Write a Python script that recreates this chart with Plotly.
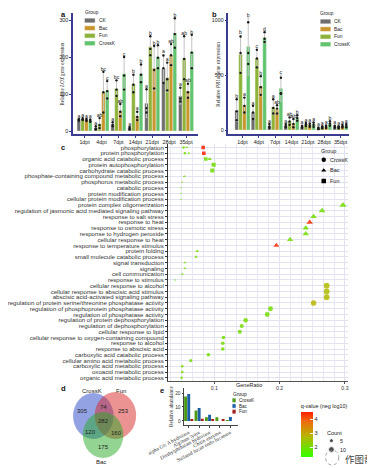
import numpy as np
import plotly.graph_objects as go

FONT = "Liberation Sans, Arial, sans-serif"
SERIF = "Liberation Serif, Times New Roman, serif"

# ---------------- data ----------------
dpt = ['1dpt', '4dpt', '7dpt', '14dpt', '21dpt', '28dpt', '35dpt']
bar_groups = ['CK', 'Fun', 'Bac', 'CrossK']          # order of bars inside a time point
legend_groups = ['CK', 'Bac', 'Fun', 'CrossK']       # order in legend

# panel a : relative LOX expression (mean, error, letters, replicates)
lox = {
    'CK':     [30, 8, 18, 8, 75, 168, 95],
    'Fun':    [32, 20, 115, 128, 228, 145, 197],
    'Bac':    [30, 105, 55, 40, 170, 205, 108],
    'CrossK': [28, 110, 155, 155, 200, 265, 215],
}
lox_err = {
    'CK':     [3, 5, 6, 3, 38, 38, 22],
    'Fun':    [3, 15, 22, 24, 28, 40, 60],
    'Bac':    [3, 55, 18, 12, 60, 30, 20],
    'CrossK': [3, 25, 45, 25, 32, 40, 45],
}
lox_let = {
    'CK':     ['a', 'a', 'a', 'a', 'a', 'a', 'a'],
    'Fun':    ['a', 'ab', 'bc', 'b', 'b', 'a', 'ab'],
    'Bac':    ['a', 'bc', 'ab', 'a', 'b', 'ab', 'ab'],
    'CrossK': ['a', 'c', 'c', 'b', 'b', 'b', 'b'],
}
lox_reps = {
    'CK':     [[28, 31, 32], [4, 7, 13], [13, 17, 24], [5, 8, 11], [50, 62, 113], [130, 170, 204], [80, 88, 117]],
    'Fun':    [[30, 32, 35], [8, 16, 35], [95, 112, 137], [105, 125, 152], [205, 222, 256], [110, 140, 185], [140, 195, 256]],
    'Bac':    [[27, 30, 33], [50, 105, 160], [40, 52, 73], [30, 38, 52], [115, 165, 230], [178, 205, 235], [90, 105, 128]],
    'CrossK': [[25, 28, 31], [88, 108, 135], [112, 150, 200], [132, 152, 180], [170, 198, 232], [225, 262, 305], [170, 212, 260]],
}

# panel b : relative PR1a expression
pr = {
    'CK':     [180, 160, 35, 40, 30, 15, 30],
    'Fun':    [690, 650, 210, 80, 50, 25, 25],
    'Bac':    [225, 400, 190, 60, 45, 30, 35],
    'CrossK': [760, 840, 380, 110, 50, 60, 40],
}
pr_err = {
    'CK':     [100, 60, 20, 15, 10, 8, 10],
    'Fun':    [170, 80, 70, 35, 15, 10, 10],
    'Bac':    [70, 90, 35, 40, 15, 12, 12],
    'CrossK': [260, 50, 120, 25, 20, 20, 15],
}
pr_let = {
    'CK':     ['b', 'a', 'a', 'a', 'a', 'a', 'a'],
    'Fun':    ['b', 'c', 'a', 'ab', 'a', 'a', 'a'],
    'Bac':    ['a', 'b', 'ab', 'ab', 'a', 'a', 'a'],
    'CrossK': ['b', 'd', 'c', 'b', 'a', 'b', 'a'],
}
pr_reps = {
    'CK':     [[90, 170, 280], [100, 160, 220], [18, 32, 55], [26, 38, 55], [20, 30, 40], [8, 14, 23], [20, 30, 40]],
    'Fun':    [[520, 700, 850], [570, 650, 730], [150, 200, 280], [48, 78, 115], [36, 50, 65], [15, 25, 35], [15, 25, 35]],
    'Bac':    [[160, 220, 295], [320, 390, 490], [150, 195, 225], [25, 55, 100], [30, 45, 60], [18, 30, 42], [23, 35, 47]],
    'CrossK': [[600, 700, 980], [800, 830, 890], [330, 335, 475], [85, 110, 135], [30, 50, 70], [40, 60, 80], [25, 40, 55]],
}
bar_colors = {'CK': '#6e6e6e', 'Fun': '#8db33a', 'Bac': '#c9962e', 'CrossK': '#62c46e'}

# panel c : GO enrichment
terms = [
    'phosphorylation', 'protein phosphorylation', 'organic acid catabolic process',
    'protein autophosphorylation', 'carbohydrate catabolic process',
    'phosphate-containing compound metabolic process', 'phosphorus metabolic process',
    'catabolic process', 'protein modification process', 'cellular protein modification process',
    'protein complex oligomerization', 'regulation of jasmonic acid mediated signaling pathway',
    'response to salt stress', 'response to heat', 'response to osmotic stress',
    'response to hydrogen peroxide', 'cellular response to heat', 'response to temperature stimulus',
    'protein folding', 'small molecule catabolic process', 'signal transduction', 'signaling',
    'cell communication', 'response to stimulus', 'cellular response to alcohol',
    'cellular response to abscisic acid stimulus', 'abscisic acid-activated signaling pathway',
    'regulation of protein serine/threonine phosphatase activity',
    'regulation of phosphoprotein phosphatase activity', 'regulation of phosphatase activity',
    'regulation of protein dephosphorylation', 'regulation of dephosphorylation',
    'cellular response to lipid', 'cellular response to oxygen-containing compound',
    'response to alcohol', 'response to abscisic acid', 'carboxylic acid catabolic process',
    'cellular amino acid metabolic process', 'carboxylic acid metabolic process',
    'oxoacid metabolic process', 'organic acid metabolic process',
]
crossk_terms = terms[0:2] + terms[24:41]
crossk_ratio = [0.053, 0.055, 0.272, 0.272, 0.272, 0.252, 0.186, 0.181, 0.148, 0.142,
                0.139, 0.114, 0.113, 0.113, 0.091, 0.064, 0.051, 0.051, 0.050]
crossk_q = [2.0, 2.0, 2.7, 2.7, 2.7, 2.8, 2.0, 2.0, 2.0, 2.0,
            2.0, 2.0, 2.0, 2.0, 2.0, 2.0, 2.0, 2.0, 2.0]
crossk_count = [2, 2, 10, 10, 10, 9, 7, 7, 6, 5, 5, 4, 4, 4, 4, 3, 2, 2, 2]

bac_terms = terms[0:3] + terms[5:24]
bac_ratio = [0.058, 0.061, 0.093, 0.054, 0.051, 0.049, 0.049, 0.049, 0.297, 0.265, 0.252,
             0.246, 0.240, 0.240, 0.216, 0.195, 0.074, 0.072, 0.055, 0.055, 0.051, 0.040]
bac_q = [2.0, 2.0, 2.0, 2.0, 2.0, 2.0, 2.0, 2.0, 2.0, 2.0, 2.0,
         4.4, 2.0, 2.0, 2.0, 4.4, 2.0, 2.0, 2.0, 2.0, 2.0, 1.9]
bac_count = [2, 2, 4, 2, 1, 1, 1, 1, 12, 11, 10, 10, 10, 10, 9, 8, 3, 3, 2, 2, 2, 1]

fun_terms = terms[0:5]
fun_ratio = [0.083, 0.084, 0.087, 0.099, 0.097]
fun_q = [4.5, 4.5, 2.0, 2.0, 2.0]
fun_count = [4, 4, 4, 5, 5]

count_legend = [5, 10]

# panel d : Venn counts
venn_sets = ['CrossK', 'Fun', 'Bac']
venn_counts = {'CrossK': 305, 'CrossK&Fun': 74, 'Fun': 253, 'all': 282,
               'CrossK&Bac': 120, 'Fun&Bac': 160, 'Bac': 175}

# panel e : relative abundance of enzymes
e_cats = ['alpha Glc A hydrolase', 'Alginate lyase', 'Diethylphthalate hydrolase',
          'Chitin enzyme', 'Sulfated fucan endo fucanase']
e_vals = {
    'CrossK': [17.6, 7.4, 2.6, 2.6, 0.3],
    'Bac':    [19.3, 9.3, 4.5, 0.0, 2.8],
    'Fun':    [1.0, 1.5, 1.0, 1.0, 0.0],
}
e_colors = {'CrossK': '#4c9a16', 'Bac': '#1d5fa3', 'Fun': '#a3201c'}

# ---------------- figure ----------------
fig = go.Figure()

def bar_panel(vals, errs, lets, reps, xa, ya, step, width):
    idx = np.arange(len(dpt))
    for k, g in enumerate(bar_groups):
        xs = idx + (k - 1.5) * step
        fig.add_trace(go.Bar(
            x=xs, y=vals[g], width=width, name=g, xaxis=xa, yaxis=ya,
            marker=dict(color=bar_colors[g], line=dict(color='rgba(255,255,255,0.7)', width=0.5)),
            error_y=dict(type='data', array=errs[g], color='#c4c4c4', thickness=1, width=1),
            showlegend=False, hoverinfo='skip'))
        rx = np.repeat(xs, 3)
        ry = np.array(reps[g]).ravel()
        fig.add_trace(go.Scatter(
            x=rx, y=ry, mode='markers', xaxis=xa, yaxis=ya, showlegend=False, hoverinfo='skip',
            marker=dict(size=2.4, color='#1a1a1a')))
        tops = np.array(vals[g]) + np.array(errs[g])
        fig.add_trace(go.Scatter(
            x=xs, y=tops, text=lets[g], mode='text', textposition='top center',
            textfont=dict(size=5.2, color='#222', family=FONT),
            xaxis=xa, yaxis=ya, showlegend=False, hoverinfo='skip'))

bar_panel(lox, lox_err, lox_let, lox_reps, 'x', 'y', 0.225, 0.215)
bar_panel(pr, pr_err, pr_let, pr_reps, 'x2', 'y2', 0.235, 0.225)

# panel c
SIZEREF = 0.6
for g, tt, rr, qq, cc, sym in [
        ('CrossK', crossk_terms, crossk_ratio, crossk_q, crossk_count, 'circle'),
        ('Bac', bac_terms, bac_ratio, bac_q, bac_count, 'triangle-up'),
        ('Fun', fun_terms, fun_ratio, fun_q, fun_count, 'square')]:
    fig.add_trace(go.Scatter(
        x=rr, y=tt, mode='markers', xaxis='x3', yaxis='y3', showlegend=False, hoverinfo='skip',
        marker=dict(symbol=sym, size=cc, sizemode='area', sizeref=SIZEREF, sizemin=0.9,
                    color=qq, coloraxis='coloraxis', opacity=0.85, line=dict(width=0))))

# panel e
eidx = np.arange(len(e_cats))
for k, g in enumerate(['CrossK', 'Bac', 'Fun']):
    fig.add_trace(go.Bar(
        x=eidx + (k - 1) * 0.3, y=e_vals[g], width=0.28, xaxis='x4', yaxis='y4',
        marker=dict(color=e_colors[g], line=dict(width=0)), showlegend=False, hoverinfo='skip'))

# ---------------- overlay (pixel coordinates) ----------------
OV = dict(xaxis='x5', yaxis='y5', showlegend=False, hoverinfo='skip')
annotations = []
shapes = []

def txt(x, y, s, size=5.3, anchor='left', color='#222', family=FONT, angle=0, yanchor='middle'):
    annotations.append(dict(x=x, y=y, xref='x5', yref='y5', text=s, showarrow=False,
                            xanchor=anchor, yanchor=yanchor, textangle=angle, borderpad=0,
                            font=dict(size=size, color=color, family=family)))

def rect(x0, y0, x1, y1, color):
    shapes.append(dict(type='rect', xref='x5', yref='y5', x0=x0, y0=y0, x1=x1, y1=y1,
                       fillcolor=color, line=dict(color='rgba(255,255,255,0.8)', width=0.5),
                       layer='above'))

# panel letters
for s, x, y in [('a', 10, 6), ('b', 181, 6), ('c', 10, 139), ('d', 10, 380), ('e', 122, 382)]:
    txt(x, y, '<b>%s</b>' % s, size=7.5, color='#111')

# y titles
txt(12, 66, 'Relative <i>LOX</i> gene expression', size=5.2, anchor='center', angle=-90, family=SERIF)
txt(189, 66, 'Relative <i>PR1a</i> gene expression', size=5.2, anchor='center', angle=-90, family=SERIF)
txt(136, 399, 'Relative abundance', size=5.2, anchor='center', angle=-90, family=SERIF)

# legends of a and b
for (lx, ly) in [(37, 4.5), (304, 5.5)]:
    txt(lx, ly, 'Group', size=4.8)
    for k, g in enumerate(legend_groups):
        yy = ly + 8 + k * 7.6
        rect(lx + 1, yy - 2.3, lx + 13, yy + 2.3, bar_colors[g])
        txt(lx + 16, yy, g, size=4.9)

# legend of c (Group)
txt(305, 142.5, 'Group', size=5.5)
grp_syms = [('CrossK', 'circle'), ('Bac', 'triangle-up'), ('Fun', 'square')]
for k, (g, sym) in enumerate(grp_syms):
    yy = 151.8 + k * 10.6
    fig.add_trace(go.Scatter(x=[309], y=[yy], mode='markers',
                             marker=dict(symbol=sym, size=4.5, color='black'), **OV))
    txt(315, yy, g, size=5.5)

# count legend
txt(312, 425, 'Count', size=5.5)
fig.add_trace(go.Scatter(x=[317.7, 317.7], y=[432.7, 441.5], mode='markers',
                         marker=dict(size=count_legend, sizemode='area', sizeref=SIZEREF,
                                     color='black'), **OV))
for c, yy in zip(count_legend, [432.7, 441.5]):
    txt(326, yy, str(c), size=5.3)

# GeneRatio label
txt(208, 377, 'GeneRatio', size=5.5)

# legend of e
txt(205, 386, 'Group', size=5.0)
for k, g in enumerate(['CrossK', 'Bac', 'Fun']):
    yy = 392.3 + k * 5.7
    rect(205.3, yy - 2.1, 209.5, yy + 2.1, e_colors[g])
    txt(211.5, yy, g, size=4.6)

# Venn diagram
venn_geom = {'CrossK': (48, 408, 23, 'rgba(40,70,200,0.5)'),
             'Fun': (73, 407.5, 23.5, 'rgba(215,40,40,0.5)'),
             'Bac': (59, 427, 23, 'rgba(40,170,40,0.5)')}
for s in venn_sets:
    cx, cy, r, col = venn_geom[s]
    shapes.append(dict(type='circle', xref='x5', yref='y5', x0=cx - r, x1=cx + r,
                       y0=cy - r, y1=cy + r, fillcolor=col, line=dict(width=0), layer='below'))
venn_lab_pos = {'CrossK': (46.7, 382.5), 'Fun': (79, 382.5), 'Bac': (57, 454)}
for s in venn_sets:
    txt(*venn_lab_pos[s], s, size=6, anchor='center')
venn_num_pos = {'CrossK': (36, 403), 'CrossK&Fun': (60, 399), 'Fun': (82.5, 402.5),
                'all': (60, 413), 'CrossK&Bac': (44.5, 424), 'Fun&Bac': (74, 425),
                'Bac': (60, 438.5)}
for key, n in venn_counts.items():
    txt(*venn_num_pos[key], str(n), size=6, anchor='center')

# watermark
shapes.append(dict(type='circle', xref='x5', yref='y5', x0=311, x1=326, y0=442, y1=457,
                   line=dict(color='#888', width=0.8, dash='dot'), layer='above'))
txt(349, 451, '作图帮', size=9.5, anchor='center', color='#444',
    family='Noto Sans CJK SC, sans-serif')

# ---------------- layout ----------------
W, H = 375, 468
def dx(a, b):
    return [a / W, b / W]
def dy(top, bottom):
    return [1 - bottom / H, 1 - top / H]

NAVY = '#3b3b8f'
bar_x = dict(showline=True, linecolor=NAVY, linewidth=1.5, ticks='outside', ticklen=2,
             tickcolor=NAVY, tickwidth=1, tickangle=0,
             tickfont=dict(size=5.3, color='#222', family=FONT),
             showgrid=False, zeroline=False, fixedrange=True)
bar_y = dict(showline=True, linecolor=NAVY, linewidth=1.5, ticks='outside', ticklen=2,
             tickcolor=NAVY, tickwidth=1, tickfont=dict(size=5.3, color='#222', family=FONT),
             showgrid=False, zeroline=False, fixedrange=True)

fig.update_layout(
    width=W, height=H, autosize=False,
    margin=dict(l=0, r=0, t=0, b=0),
    paper_bgcolor='white', plot_bgcolor='rgba(0,0,0,0)',
    barmode='overlay', showlegend=False,
    font=dict(family=FONT, size=5, color='#222'),
    xaxis=dict(bar_x, domain=dx(25, 167), range=[-0.68, 6.73], tickvals=list(range(7)),
               ticktext=dpt, anchor='y'),
    yaxis=dict(bar_y, domain=dy(5, 126), range=[-8, 319], tickvals=[0, 100, 200, 300], anchor='x'),
    xaxis2=dict(bar_x, domain=dx(201, 338), range=[-0.86, 6.54], tickvals=list(range(7)),
                ticktext=dpt, anchor='y2'),
    yaxis2=dict(bar_y, domain=dy(5, 126), range=[-36, 1064], tickvals=[0, 500, 1000], anchor='x2'),
    xaxis3=dict(domain=dx(132, 336), range=[0.0284, 0.304], tickvals=[0.1, 0.2, 0.3],
                ticktext=['0.1', '0.2', '0.3'], showgrid=True, gridcolor='#e2e2f0', gridwidth=1,
                minor=dict(dtick=1 / 60, tick0=0, showgrid=True, gridcolor='#e9e9f5', gridwidth=1),
                showline=True, linecolor='#555', linewidth=1, ticks='outside', ticklen=1.5,
                tickcolor='#555', tickangle=0, tickfont=dict(size=5.2, color='#333'),
                zeroline=False, anchor='y3', fixedrange=True),
    yaxis3=dict(domain=dy(136, 373), type='category', categoryorder='array',
                categoryarray=terms, range=[40.55, -0.6], tickmode='array',
                tickvals=terms, ticktext=terms, showgrid=True, gridcolor='#e2e2f0',
                gridwidth=1, showline=True, linecolor='#333', linewidth=1, ticks='outside',
                ticklen=1.5, tickcolor='#333', tickfont=dict(size=6.1, color='#333'),
                zeroline=False, anchor='x3', fixedrange=True),
    xaxis4=dict(domain=dx(150.7, 212), range=[-0.45, 4.74], tickvals=list(range(5)),
                ticktext=e_cats, tickangle=-28, showline=True, linecolor='#444', linewidth=1,
                ticks='outside', ticklen=1.5, tickcolor='#444',
                tickfont=dict(size=5.2, color='#333', family=SERIF), showgrid=False,
                zeroline=False, anchor='y4', fixedrange=True),
    yaxis4=dict(domain=dy(380, 417), range=[-2.9, 23.6], tickvals=[0, 10, 20], showline=True,
                linecolor='#444', linewidth=1, ticks='outside', ticklen=1.5, tickcolor='#444',
                tickfont=dict(size=4.8, color='#333'), showgrid=False, zeroline=False,
                anchor='x4', fixedrange=True),
    xaxis5=dict(domain=[0, 1], range=[0, W], visible=False, fixedrange=True, anchor='y5'),
    yaxis5=dict(domain=[0, 1], range=[H, 0], visible=False, fixedrange=True, anchor='x5'),
    coloraxis=dict(cmin=1.3, cmax=4.5,
                   colorscale=[[0, '#33ff00'], [0.45, '#b4b800'], [0.8, '#f06a10'], [1, '#ff2000']],
                   colorbar=dict(x=283 / W, xanchor='left', y=1 - 449 / H, yanchor='bottom',
                                 len=56 / H, lenmode='fraction', thickness=12,
                                 thicknessmode='pixels', outlinewidth=0, xpad=0, ypad=0,
                                 tickvals=[2, 3, 4], ticks='inside', tickcolor='white',
                                 ticklen=3, tickfont=dict(size=5.5, color='#222'),
                                 title=dict(text='q-value (neg log10)', side='top',
                                            font=dict(size=5.4, color='#222')))),
    annotations=annotations, shapes=shapes,
)

fig.write_html("out.html")
